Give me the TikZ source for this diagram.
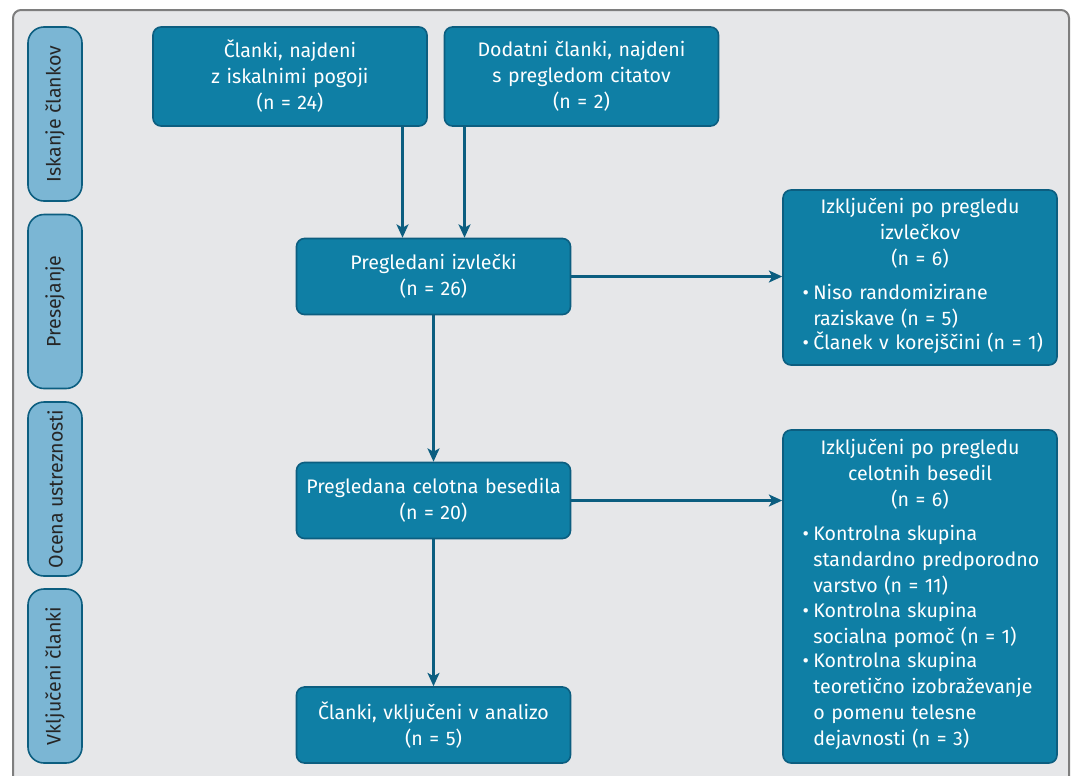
\documentclass[tikz,border=0pt]{standalone}
\usepackage{fontspec}
\setmainfont{Fira Sans}
\usetikzlibrary{arrows.meta,positioning,calc}
\definecolor{boxblue}{HTML}{0F7FA5}
\definecolor{boxedge}{HTML}{0C5E80}
\definecolor{phasefill}{HTML}{7BB6D4}
\definecolor{framegray}{HTML}{E6E7E9}
\definecolor{frameedge}{HTML}{7E7E7E}
\setlength{\lineskip}{0pt}
\newcommand{\bul}[1]{\par\noindent\makebox[8pt][l]{\textbullet}\begin{tabular}[t]{@{}l@{}}#1\end{tabular}}
\newcommand{\nextbul}[1]{\par\vspace{-2.25pt}\bul{#1}}

\begin{document}
\begin{tikzpicture}[x=0.75pt, y=-0.75pt,
    txt/.style={font=\fontsize{14.7}{19.5}\selectfont},
    box/.style={txt, draw=boxedge, line width=1.2pt, fill=boxblue, text=white,
      rounded corners=6pt, minimum width=205.5pt, text width=200pt, inner xsep=2pt, align=center},
    phase/.style={txt, draw=boxedge, line width=1.2pt, fill=phasefill, text=black!85,
      rounded corners=12pt, rotate=90, minimum width=130.5pt, minimum height=40.5pt},
    excl/.style={box, text width=176pt, inner xsep=14.75pt, align=left},
    arr/.style={draw=boxedge, line width=1.6pt, -{Stealth[length=10pt, width=9pt, inset=2.5pt]}}
  ]
  \useasboundingbox (0,0) rectangle (1073,775);
  \clip (0,0) rectangle (1073,775);
  \draw[draw=frameedge, fill=framegray, line width=1.5pt, rounded corners=6pt] (13,10) rectangle (1069,800);

  \node[phase] (p1) at (55,114) {Iskanje člankov};
  \node[phase] (p2) at (55,301.5) {Presejanje};
  \node[phase] (p3) at (55,489) {Ocena ustreznosti};
  \node[phase] (p4) at (55,676) {Vključeni članki};

  \node[box, minimum height=74.25pt] (found) at (290,76.5)
    {Članki, najdeni\\ z iskalnimi pogoji\\ (n = 24)};
  \node[box, minimum height=74.25pt] (extra) at (581.5,76.5)
    {Dodatni članki, najdeni\\ s pregledom citatov\\ (n = 2)};
  \node[box, minimum height=57pt] (abstr) at (433.5,276.5)
    {Pregledani izvlečki\\ (n = 26)};
  \node[box, minimum height=57pt] (full) at (433.5,500.5)
    {Pregledana celotna besedila\\ (n = 20)};
  \node[box, minimum height=57pt] (incl) at (433.5,725)
    {Članki, vključeni v analizo\\ (n = 5)};

  \node[excl, minimum height=131.25pt] (exabs) at (920,277.5)
    {{\centering Izključeni po pregledu\\ izvlečkov\\ (n = 6)\par}\vspace{6pt}%
     \bul{Niso randomizirane\\ raziskave (n = 5)}%
     \nextbul{Članek v korejščini (n = 1)}};
  \node[excl, minimum height=249.75pt] (exfull) at (920,596.5)
    {{\centering Izključeni po pregledu\\ celotnih besedil\\ (n = 6)\par}\vspace{6pt}%
     \bul{Kontrolna skupina\\ standardno predporodno\\ varstvo (n = 11)}%
     \nextbul{Kontrolna skupina\\ socialna pomoč (n = 1)}%
     \nextbul{Kontrolna skupina\\ teoretično izobraževanje\\ o pomenu telesne\\ dejavnosti (n = 3)}};

  \coordinate (inl) at ($(abstr.north)+(-31,0)$);
  \coordinate (inr) at ($(abstr.north)+(31,0)$);
  \draw[arr] (found.south -| inl) -- (inl);
  \draw[arr] (extra.south -| inr) -- (inr);
  \draw[arr] (abstr) -- (full);
  \draw[arr] (full) -- (incl);
  \draw[arr] (abstr.east) -- (abstr.east -| exabs.west);
  \draw[arr] (full.east) -- (full.east -| exfull.west);
\end{tikzpicture}
\end{document}
